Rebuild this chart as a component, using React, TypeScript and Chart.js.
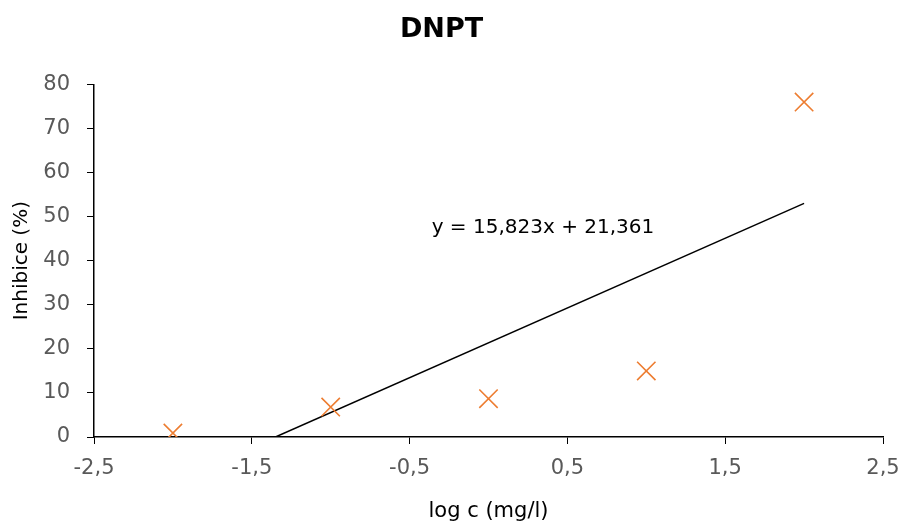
import React, { useEffect, useRef } from "react";
import { Chart, registerables } from "chart.js";

Chart.register(...registerables);

const logC = [-2, -1, 0, 1, 2];
const inhibice = [0.9, 6.8, 8.7, 15.0, 76.0];
const xTicks = [-2.5, -1.5, -0.5, 0.5, 1.5, 2.5];
const yTicks = [0, 10, 20, 30, 40, 50, 60, 70, 80];
const trendSlope = 15.823;
const trendIntercept = 21.361;
const trendLabel = "y = 15,823x + 21,361";
const trendLabelPos = { x: 0.345, y: 47.4 };

const fmt = (v: number) => String(v).replace(".", ",");

const FONT = "'DejaVu Sans', sans-serif";

export default function App() {
  const ref = useRef<HTMLCanvasElement | null>(null);
  useEffect(() => {
    document.body.style.margin = "0";
    const ctx = ref.current!;
    const x0 = -trendIntercept / trendSlope;
    const x1 = logC[logC.length - 1];
    const trendPts = [
      { x: x0, y: trendSlope * x0 + trendIntercept },
      { x: x1, y: trendSlope * x1 + trendIntercept },
    ];
    const eqPlugin = {
      id: "eq",
      afterDatasetsDraw(chart: any) {
        const c = chart.ctx;
        const px = chart.scales.x.getPixelForValue(trendLabelPos.x);
        const py = chart.scales.y.getPixelForValue(trendLabelPos.y);
        c.save();
        c.font = `20px ${FONT}`;
        c.fillStyle = "#000";
        c.textAlign = "center";
        c.textBaseline = "middle";
        c.fillText(trendLabel, px, py);
        c.restore();
      },
    };
    const chart = new Chart(ctx, {
      type: "scatter",
      data: {
        datasets: [
          {
            label: "trend",
            data: trendPts,
            showLine: true,
            borderColor: "#000",
            borderWidth: 1.5,
            pointRadius: 0,
            order: 2,
          } as any,
          {
            label: "data",
            data: logC.map((x, i) => ({ x, y: inhibice[i] })),
            pointStyle: "crossRot",
            pointRadius: 13,
            borderColor: "#ED7D31",
            backgroundColor: "#ED7D31",
            borderWidth: 1.6,
            order: 1,
          } as any,
        ],
      },
      options: {
        animation: false,
        responsive: false,
        layout: { padding: { left: 0, right: 18, top: 0, bottom: 0 } },
        plugins: {
          legend: { display: false },
          tooltip: { enabled: false },
          title: {
            display: true,
            text: "DNPT",
            color: "#000",
            font: { family: FONT, size: 27, weight: "bold" },
            padding: { top: 14, bottom: 38 },
          },
        },
        scales: {
          x: {
            type: "linear",
            min: -2.5,
            max: 2.5,
            afterBuildTicks: (s: any) => {
              s.ticks = xTicks.map((v) => ({ value: v }));
            },
            afterFit: (s: any) => {
              s.height = 88;
              s.paddingLeft = 0;
              s.paddingRight = 0;
            },
            grid: {
              display: true,
              drawOnChartArea: false,
              drawTicks: true,
              tickLength: 7,
              color: "#000",
            },
            border: { color: "#000", width: 1.5 },
            ticks: {
              color: "#595959",
              font: { family: FONT, size: 21 },
              padding: 12,
              maxRotation: 0,
              callback: (v: any) => fmt(v),
            },
            title: {
              display: true,
              text: "log c (mg/l)",
              color: "#000",
              font: { family: FONT, size: 21 },
              padding: { top: 0, bottom: 1 },
            },
          },
          y: {
            type: "linear",
            min: 0,
            max: 80,
            afterBuildTicks: (s: any) => {
              s.ticks = yTicks.map((v) => ({ value: v }));
            },
            afterFit: (s: any) => {
              s.width = 94;
              s.paddingTop = 0;
              s.paddingBottom = 0;
            },
            grid: {
              display: true,
              drawOnChartArea: false,
              drawTicks: true,
              tickLength: 7,
              color: "#000",
            },
            border: { color: "#000", width: 1.5 },
            ticks: {
              color: "#595959",
              font: { family: FONT, size: 21 },
              padding: 17,
              callback: (v: any) => fmt(v),
            },
            title: {
              display: true,
              text: "Inhibice (%)",
              color: "#000",
              font: { family: FONT, size: 20 },
              padding: { top: 10, bottom: 0 },
            },
          },
        },
      },
      plugins: [eqPlugin],
    });
    return () => chart.destroy();
  }, []);
  return <canvas ref={ref} width={901} height={525} style={{ display: "block" }} />;
}
